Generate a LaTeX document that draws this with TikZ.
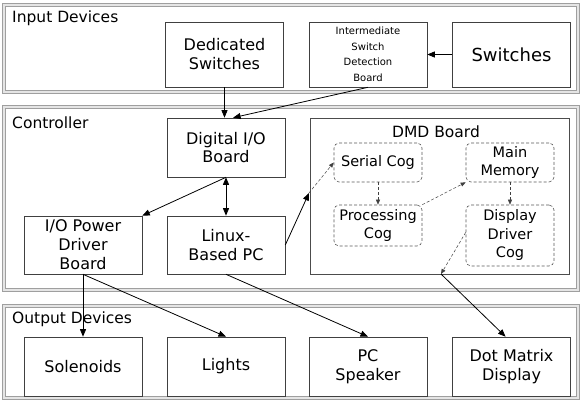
\documentclass[tikz,border=0pt]{standalone}
\usepackage{fontspec}
\setmainfont{DejaVu Sans}
\usetikzlibrary{arrows.meta,calc}
\begin{document}
\begin{tikzpicture}[x=1pt,y=-1pt,
  frame/.style={draw=gray!75, double=gray!20, double distance=1.6pt, line width=0.8pt},
  box/.style={draw=black!75, line width=0.6pt, fill=white, align=center, inner sep=0pt,
    font=\fontsize{16}{19}\selectfont, minimum width=118pt},
  cog/.style={draw=black!65, dash pattern=on 3pt off 2pt, rounded corners=5pt, line width=0.6pt, align=center,
    inner sep=0pt, minimum width=88pt, font=\fontsize{14.5}{18.5}\selectfont},
  lbl/.style={anchor=north west, inner sep=0pt, font=\fontsize{15.5}{18}\selectfont},
  arr/.style={-{Triangle[length=7.5pt,width=6pt]}, line width=0.8pt},
  darr/.style={-{Triangle[length=5pt,width=4pt]}, dash pattern=on 3pt off 2pt, line width=0.5pt, draw=black!75},
]
\useasboundingbox (0,0) rectangle (582,406);
% frames
\draw[frame] (4,5) rectangle (578,92);
\draw[frame] (4,107) rectangle (578,290);
\draw[frame] (4,306) rectangle (578,398);
\node[lbl] (inlbl) at (12,11) {Input Devices};
\node[lbl] (ctllbl) at (12,117) {Controller};
\node[lbl] (outlbl) at (12,312) {Output Devices};
% input devices
\node[box, minimum height=65pt] (ds) at (224.5,54.5) {Dedicated\\Switches};
\node[box, minimum height=65pt, font=\fontsize{10}{15.5}\selectfont] (isdb) at (368,54.5) {Intermediate\\Switch\\Detection\\Board};
\node[box, minimum height=65pt, font=\fontsize{18}{21}\selectfont] (sw) at (511.5,54.5) {Switches};
% controller
\node[box, minimum height=59pt, font=\fontsize{16}{18.5}\selectfont] (dio) at (226,147.5) {Digital I/O\\Board};
\node[box, minimum height=58pt] (iopd) at (83,245) {I/O Power\\Driver\\Board};
\node[box, minimum height=58pt] (linux) at (226,245) {Linux-\\Based PC};
\node[draw=black!70, line width=0.6pt, minimum width=259pt, minimum height=156pt, inner sep=0pt] (dmd) at (439.5,196) {};
\node[font=\fontsize{15.5}{18}\selectfont, inner sep=0pt] (dmdlbl) at (436,132) {DMD Board};
\node[cog, minimum height=39pt] (serial) at (378,162.5) {Serial Cog};
\node[cog, minimum height=39pt] (mem) at (510,162.5) {Main\\Memory};
\node[cog, minimum height=41pt] (proc) at (378,225.5) {Processing\\Cog};
\node[cog, minimum height=61pt] (ddc) at (510,235.5) {Display\\Driver\\Cog};
% output devices
\node[box, minimum height=59pt] (sol) at (83,366.5) {Solenoids};
\node[box, minimum height=59pt] (lights) at (226,366.5) {Lights};
\node[box, minimum height=59pt] (pcs) at (368,366.5) {PC\\Speaker};
\node[box, minimum height=59pt] (dmx) at (511.5,366.5) {Dot Matrix\\Display};
% connectors
\draw[arr] (ds.south) -- (ds.south |- dio.north);
\draw[arr] (isdb.south) -- ($(dio.north west)!0.56!(dio.north east)$);
\draw[arr] (sw.west) -- (isdb.east);
\draw[{Triangle[length=7.5pt,width=6pt]}-{Triangle[length=7.5pt,width=6pt]}, line width=0.8pt] (dio.south) -- (linux.north);
\draw[arr] (dio.south) -- (iopd.north east);
\coordinate (pin) at (309,193);
\draw[arr] (linux.east) -- (pin);
\draw[darr] (pin) -- (serial.west);
\draw[darr] (serial.south) -- (proc.north);
\draw[darr] (proc.north east) -- (mem.south west);
\draw[darr] (mem.south) -- (ddc.north);
\coordinate (pout) at (441,274);
\draw[darr] ($(ddc.north west)!0.45!(ddc.south west)$) -- (pout);
\draw[arr] (pout) -- ($(dmx.north west)!0.45!(dmx.north east)$);
\draw[arr] (iopd.south) -- (sol.north);
\draw[arr] (iopd.south) -- (lights.north);
\draw[arr] (linux.south) -- (pcs.north);
\end{tikzpicture}
\end{document}
